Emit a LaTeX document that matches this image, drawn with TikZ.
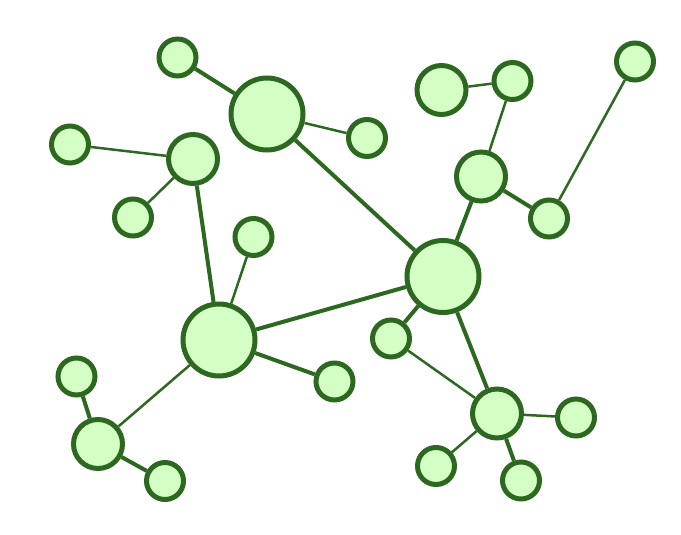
\documentclass[tikz,border=0pt]{standalone}
\usepackage{tikz}

\definecolor{nodefill}{RGB}{212,255,196}
\definecolor{nodeline}{RGB}{45,104,32}

\begin{document}
\begin{tikzpicture}[x=1pt, y=-1pt,
    dot/.style={circle, draw=nodeline, fill=nodefill, line width=5pt, inner sep=0pt},
    small/.style={dot, minimum size=37pt},
    medium/.style={dot, minimum size=49pt},
    large/.style={dot, minimum size=72pt},
    heavy/.style={draw=nodeline, line width=4pt},
    light/.style={draw=nodeline, line width=2.5pt}]

    \useasboundingbox (0,0) rectangle (681,535);

    % top left group
    \node[small]  (tl)   at (177.5, 57.5)  {};
    \node[large]  (top)  at (267, 114)     {};
    \node[small]  (topr) at (367, 138)     {};
    \node[small]  (far)  at (70, 144.5)    {};
    \node[medium] (up)   at (193, 159)     {};
    \node[small]  (upl)  at (133, 217.5)   {};
    \node[small]  (mid)  at (253.5, 237)   {};

    % bottom left group
    \node[large]  (left) at (219, 340)     {};
    \node[small]  (lr)   at (334.5, 381.5) {};
    \node[small]  (low)  at (76.5, 376.5)  {};
    \node[medium] (bl)   at (98, 444)      {};
    \node[small]  (blr)  at (165, 481)     {};

    % right group
    \node[large]  (hub)  at (443, 276.5)   {};
    \node[medium] (nw)   at (441.5, 90)    {};
    \node[small]  (ne)   at (512.5, 81)    {};
    \node[small]  (cor)  at (635, 61.5)    {};
    \node[medium] (rt)   at (481, 176.5)   {};
    \node[small]  (rts)  at (549, 218.5)   {};
    \node[small]  (hubl) at (391, 338.5)   {};
    \node[medium] (br)   at (497, 413.5)   {};
    \node[small]  (brr)  at (576, 417.5)   {};
    \node[small]  (brl)  at (436, 466)     {};
    \node[small]  (brb)  at (521, 480.5)   {};

    \draw[heavy] (tl) -- (top);
    \draw[light] (top) -- (topr);
    \draw[heavy] (top) -- (hub);
    \draw[light] (far) -- (up);
    \draw[light] (up) -- (upl);
    \draw[heavy] (up) -- (left);
    \draw[light] (mid) -- (left);
    \draw[heavy] (left) -- (lr);
    \draw[light] (left) -- (bl);
    \draw[heavy] (low) -- (bl);
    \draw[heavy] (bl) -- (blr);
    \draw[heavy] (left) -- (hub);
    \draw[light] (nw) -- (ne);
    \draw[light] (ne) -- (rt);
    \draw[heavy] (hub) -- (rt);
    \draw[heavy] (rt) -- (rts);
    \draw[light] (cor) -- (rts);
    \draw[heavy] (hub) -- (hubl);
    \draw[light] (hubl) -- (br);
    \draw[heavy] (hub) -- (br);
    \draw[light] (br) -- (brr);
    \draw[light] (br) -- (brl);
    \draw[heavy] (br) -- (brb);

\end{tikzpicture}
\end{document}
